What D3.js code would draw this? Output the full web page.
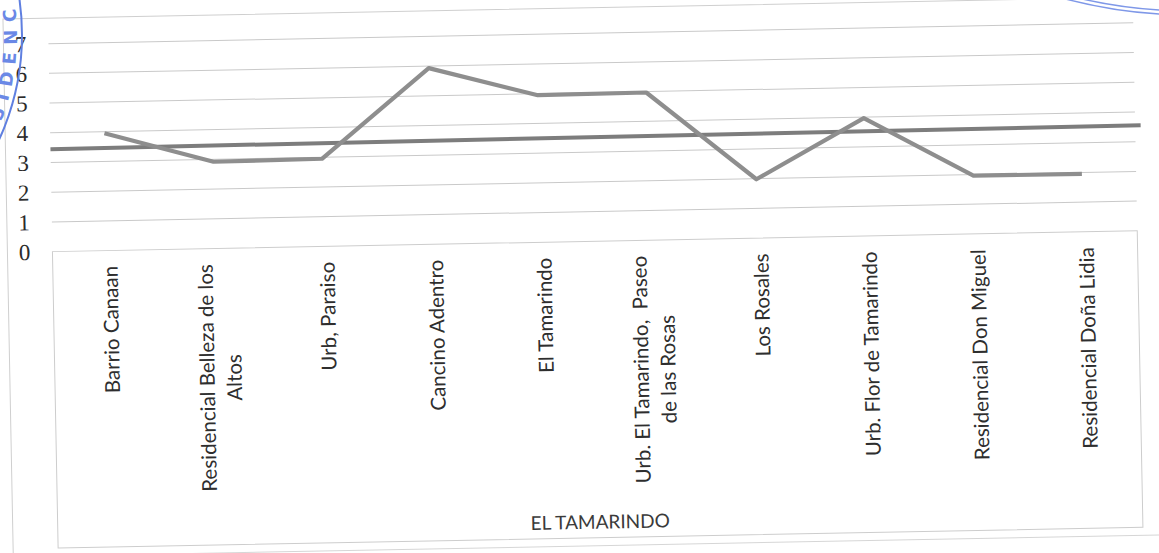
<!DOCTYPE html>
<html lang="es">
<head>
    <meta charset="UTF-8"/>
    <title>El Tamarindo</title>
    <script src="https://d3js.org/d3.v7.min.js"></script>
    <style>
        body { margin: 0; background: #fff; }
        svg { display: block; }
    </style>
</head>
<body>
<div id="chart"></div>

<script>
    // data
    const categories = ["Barrio Canaan", "Residencial Belleza de los Altos", "Urb, Paraiso", "Cancino Adentro",
        "El Tamarindo", "Urb. El Tamarindo, Paseo de las Rosas", "Los Rosales", "Urb. Flor de Tamarindo",
        "Residencial Don Miguel", "Residencial Doña Lidia"];
    const tickLines = [["Barrio Canaan"], ["Residencial Belleza de los", "Altos"], ["Urb, Paraiso"], ["Cancino Adentro"],
        ["El Tamarindo"], ["Urb. El Tamarindo,  Paseo", "de las Rosas"], ["Los Rosales"], ["Urb. Flor de Tamarindo"],
        ["Residencial Don Miguel"], ["Residencial Doña Lidia"]];
    const values = [3.95, 2.92, 2.95, 5.93, 4.95, 4.97, 1.98, 3.97, 1.96, 1.95];
    // straight trend line, ends given in category units (1 = first category)
    const trendPos = [0.5, 10.55];
    const trendValues = [3.45, 3.55];
    const yTicks = [0, 1, 2, 3, 4, 5, 6, 7];
    const axisTitle = "EL TAMARINDO";
    const stampText = "SIDENC";

    const W = 1159, H = 553;
    const plot = {left: 53, right: 1138, top: 33.5, bottom: 241.5, boxBottom: 538};

    const svg = d3.select("#chart")
        .append("svg")
        .attr("width", W)
        .attr("height", H);

    // the scan is slightly tilted
    const g = svg.append("g")
        .attr("transform", "rotate(-1.1, 580, 276)");

    const x = d3.scaleBand()
        .domain(categories)
        .range([plot.left, plot.right]);

    const xi = d3.scaleLinear()
        .domain([0.5, categories.length + 0.5])
        .range([plot.left, plot.right]);

    const y = d3.scaleLinear()
        .domain([0, 7])
        .range([plot.bottom, plot.top]);

    // outer frame of the chart
    g.append("path")
        .attr("d", `M${W + 20},8 H8 V${H + 20}`)
        .attr("fill", "none")
        .attr("stroke", "#cfcfcf")
        .attr("stroke-width", 1);
    g.append("line")
        .attr("x1", 8).attr("x2", W + 20)
        .attr("y1", 546).attr("y2", 546)
        .attr("stroke", "#d6d6d6");

    // box under the category axis
    g.append("rect")
        .attr("x", plot.left)
        .attr("y", plot.bottom)
        .attr("width", plot.right - plot.left)
        .attr("height", plot.boxBottom - plot.bottom)
        .attr("fill", "none")
        .attr("stroke", "#cdcdcd")
        .attr("stroke-width", 1);

    // gridlines
    g.append("g")
        .selectAll("line")
        .data(yTicks.slice(1))
        .join("line")
        .attr("x1", plot.left)
        .attr("x2", plot.right)
        .attr("y1", d => y(d))
        .attr("y2", d => y(d))
        .attr("stroke", "#c9c9c9")
        .attr("stroke-width", 1);

    // y axis labels
    const yAxis = g.append("g")
        .attr("transform", `translate(${plot.left}, 0)`)
        .call(d3.axisLeft(y).tickValues(yTicks).tickFormat(d3.format("d")).tickSize(0).tickPadding(22));
    yAxis.select(".domain").remove();
    yAxis.selectAll("text")
        .style("font-family", "'Liberation Serif', 'DejaVu Serif', serif")
        .style("font-size", "23px")
        .style("fill", "#2b2b2b");

    // category labels, rotated, top aligned just under the axis
    const labelTop = 257;
    const lineH = 27;
    const lab = g.append("g")
        .selectAll("g")
        .data(categories)
        .join("g")
        .attr("transform", d => `translate(${x(d) + x.bandwidth() / 2 + 4}, ${labelTop}) rotate(-90)`);

    lab.each(function (d, i) {
        const sel = d3.select(this);
        const lines = tickLines[i];
        const texts = sel.selectAll("text")
            .data(lines)
            .join("text")
            .attr("y", (l, j) => (j - (lines.length - 1) / 2) * lineH)
            .attr("dy", "0.32em")
            .style("font-family", "Lato, 'Open Sans', sans-serif")
            .style("font-size", "20.5px")
            .style("fill", "#2e2e2e")
            .style("white-space", "pre")
            .text(l => l);
        let maxLen = 0;
        texts.each(function () { maxLen = Math.max(maxLen, this.getComputedTextLength()); });
        texts.attr("x", -maxLen / 2).attr("text-anchor", "middle");
    });

    // axis title
    g.append("text")
        .attr("x", (plot.left + plot.right) / 2)
        .attr("y", 529)
        .attr("text-anchor", "middle")
        .style("font-family", "Lato, 'Open Sans', sans-serif")
        .style("font-size", "19px")
        .style("fill", "#3a3a3a")
        .text(axisTitle);

    // trend line
    const trend = trendPos.map((p, i) => [p, trendValues[i]]);
    g.append("path")
        .datum(trend)
        .attr("fill", "none")
        .attr("stroke", "#7d7d7d")
        .attr("stroke-width", 4)
        .attr("d", d3.line().x(d => xi(d[0])).y(d => y(d[1])));

    // data line
    g.append("path")
        .datum(values)
        .attr("fill", "none")
        .attr("stroke", "#8e8e8e")
        .attr("stroke-width", 4.2)
        .attr("stroke-linejoin", "round")
        .attr("d", d3.line()
            .x((d, i) => x(categories[i]) + x.bandwidth() / 2)
            .y(d => y(d)));

    // stamp marks left on the page
    const stamp = svg.append("g");
    stamp.append("circle")
        .attr("cx", -228).attr("cy", 35).attr("r", 250)
        .attr("fill", "none").attr("stroke", "#5f7fe0").attr("stroke-width", 2);
    stamp.append("path")
        .attr("id", "stampArc")
        .attr("d", "M-6.9,140 A243,243 0 0 0 10.7,-20")
        .attr("fill", "none");
    stamp.append("text")
        .style("font-family", "'DejaVu Sans', sans-serif")
        .style("font-size", "18px")
        .style("font-weight", "bold")
        .style("letter-spacing", "8px")
        .style("fill", "#6a88e6")
        .append("textPath")
        .attr("href", "#stampArc")
        .attr("startOffset", 20)
        .text(stampText);
    [490, 486].forEach(r => {
        stamp.append("circle")
            .attr("cx", 1190).attr("cy", -475).attr("r", r)
            .attr("fill", "none").attr("stroke", "#7f98e8").attr("stroke-width", 1.5);
    });
</script>
</body>
</html>
